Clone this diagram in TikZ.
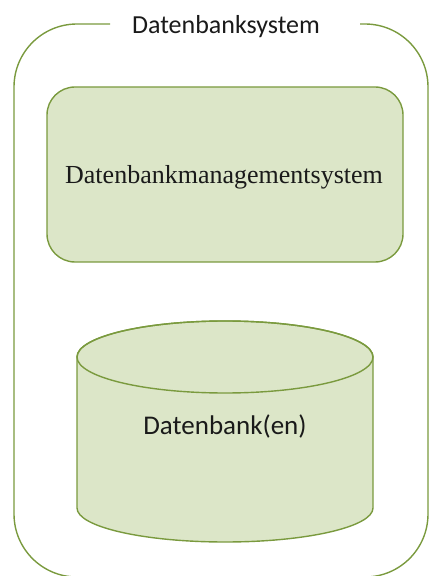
\documentclass[tikz,border=0pt]{standalone}
\usepackage{fontspec}
\setmainfont{Liberation Serif}
\newfontfamily\calibrifont{Carlito}
\definecolor{olivefill}{HTML}{DCE6C8}
\definecolor{oliveline}{HTML}{7A9A3E}
\definecolor{txt}{HTML}{1A1A1A}
\begin{document}
\begin{tikzpicture}[x=1pt,y=1pt,
  frameline/.style={draw=oliveline, line width=1.4pt},
  shapeline/.style={draw=oliveline, line width=1.4pt, fill=olivefill},
  sanslabel/.style={font=\calibrifont\fontsize{26}{30}\selectfont, text=txt, inner sep=0pt},
  seriflabel/.style={font=\fontsize{26}{30}\selectfont, text=txt, inner sep=0pt}]
\useasboundingbox (0,0) rectangle (429,576);
\clip (0,0) rectangle (429,576);
% outer frame with gap for title
\draw[frameline, rounded corners=63pt] (110,552) -- (14,552) -- (14,-1) -- (428,-1) -- (428,552) -- (360,552);
\node[sanslabel, anchor=base] (title) at (226,542) {Datenbanksystem};
% DBMS box
\node[shapeline, rounded corners=28pt, minimum width=356pt, minimum height=175pt, inner sep=0pt] (dbms) at (225,401.5) {};
\node[seriflabel] (dbmslabel) at (224,399) {Datenbankmanagementsystem};
% cylinder
\path[shapeline] (77,219) -- (77,68) arc (180:360:148 and 34) -- (373,219) arc (0:180:148 and 36) -- cycle;
\draw[frameline] (225,219) ellipse (148 and 36);
\node[sanslabel, font=\calibrifont\fontsize{27}{31}\selectfont, anchor=base] (db) at (225,141) {Datenbank(en)};
\end{tikzpicture}
\end{document}
